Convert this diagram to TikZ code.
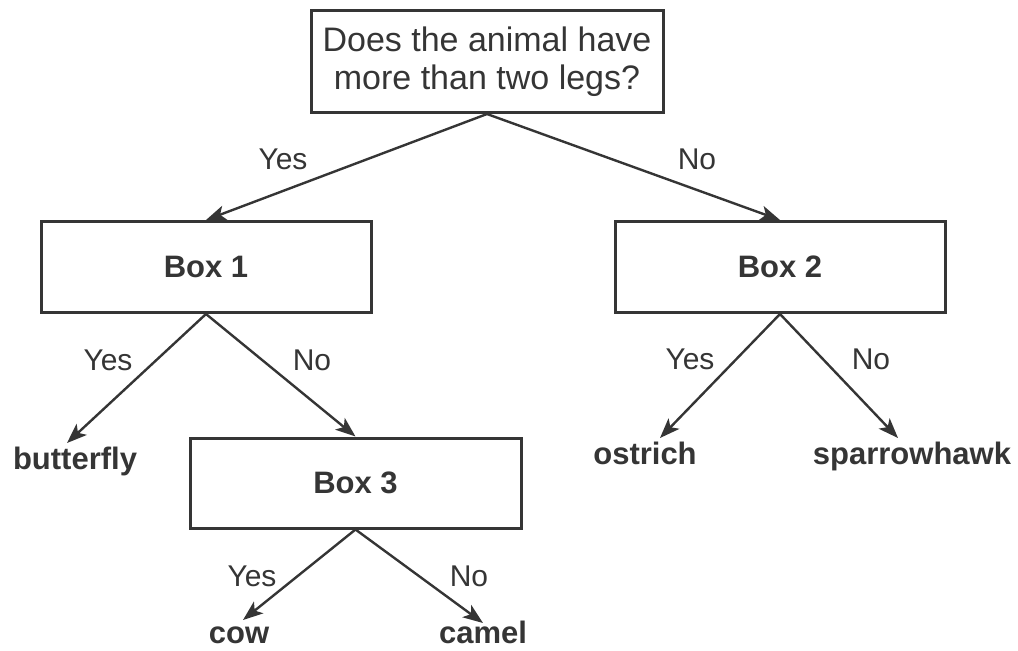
\documentclass[tikz,border=0pt]{standalone}
\usepackage{fontspec}
\setmainfont{Liberation Sans}
\usetikzlibrary{arrows.meta}
\definecolor{ink}{HTML}{353535}

\begin{document}
\begin{tikzpicture}[x=0.5pt,y=-0.5pt,
  box/.style={draw=ink,line width=1.5pt,rectangle,inner sep=0pt,text=ink},
  leaf/.style={anchor=base,inner sep=0pt,text=ink,
    font=\fontsize{15.5}{18}\selectfont\bfseries},
  ans/.style={anchor=base,inner sep=0pt,text=ink,
    font=\fontsize{15}{18}\selectfont},
  arr/.style={draw=ink,line width=1.2pt,
    -{Stealth[length=10pt,width=7.5pt,inset=2.5pt]}}]
\useasboundingbox (0,0) rectangle (1018,650);

\node (q) at (487,61.5)
  [box,minimum width=176pt,minimum height=51pt,align=center,
   font=\fontsize{17}{18.8}\selectfont]
  {Does the animal have\\more than two legs?};
\node (b1) at (206,267)
  [box,minimum width=165pt,minimum height=45.5pt,
   font=\fontsize{15.5}{18}\selectfont\bfseries] {Box 1};
\node (b2) at (780,267)
  [box,minimum width=165pt,minimum height=45.5pt,
   font=\fontsize{15.5}{18}\selectfont\bfseries] {Box 2};
\node (b3) at (355.5,483)
  [box,minimum width=165.5pt,minimum height=45pt,
   font=\fontsize{15.5}{18}\selectfont\bfseries] {Box 3};

% leaves and arrow tips
\node (fly)  at (75,469)  [leaf] {butterfly};
\node (ost)  at (645,464) [leaf] {ostrich};
\node (hawk) at (912,464) [leaf] {sparrowhawk};
\node (cow)  at (239,643) [leaf] {cow};
\node (cam)  at (483,643) [leaf] {camel};
\coordinate (tfly)  at (67,443);
\coordinate (tost)  at (660,438);
\coordinate (thawk) at (898,438);
\coordinate (tcow)  at (243,620);
\coordinate (tcam)  at (483,623);

\draw[arr] (q.south) -- (b1.north);
\draw[arr] (q.south) -- (b2.north);
\draw[arr] (b1.south) -- (tfly);
\draw[arr] (b1.south) -- (b3.north);
\draw[arr] (b2.south) -- (tost);
\draw[arr] (b2.south) -- (thawk);
\draw[arr] (b3.south) -- (tcow);
\draw[arr] (b3.south) -- (tcam);

% answers
\node (y0) at (283,169) [ans] {Yes};
\node (n0) at (697,169) [ans] {No};
\node (y1) at (108,370) [ans] {Yes};
\node (n1) at (312,370) [ans] {No};
\node (y2) at (690,369) [ans] {Yes};
\node (n2) at (871,369) [ans] {No};
\node (y3) at (252,586) [ans] {Yes};
\node (n3) at (469,586) [ans] {No};
\end{tikzpicture}
\end{document}
